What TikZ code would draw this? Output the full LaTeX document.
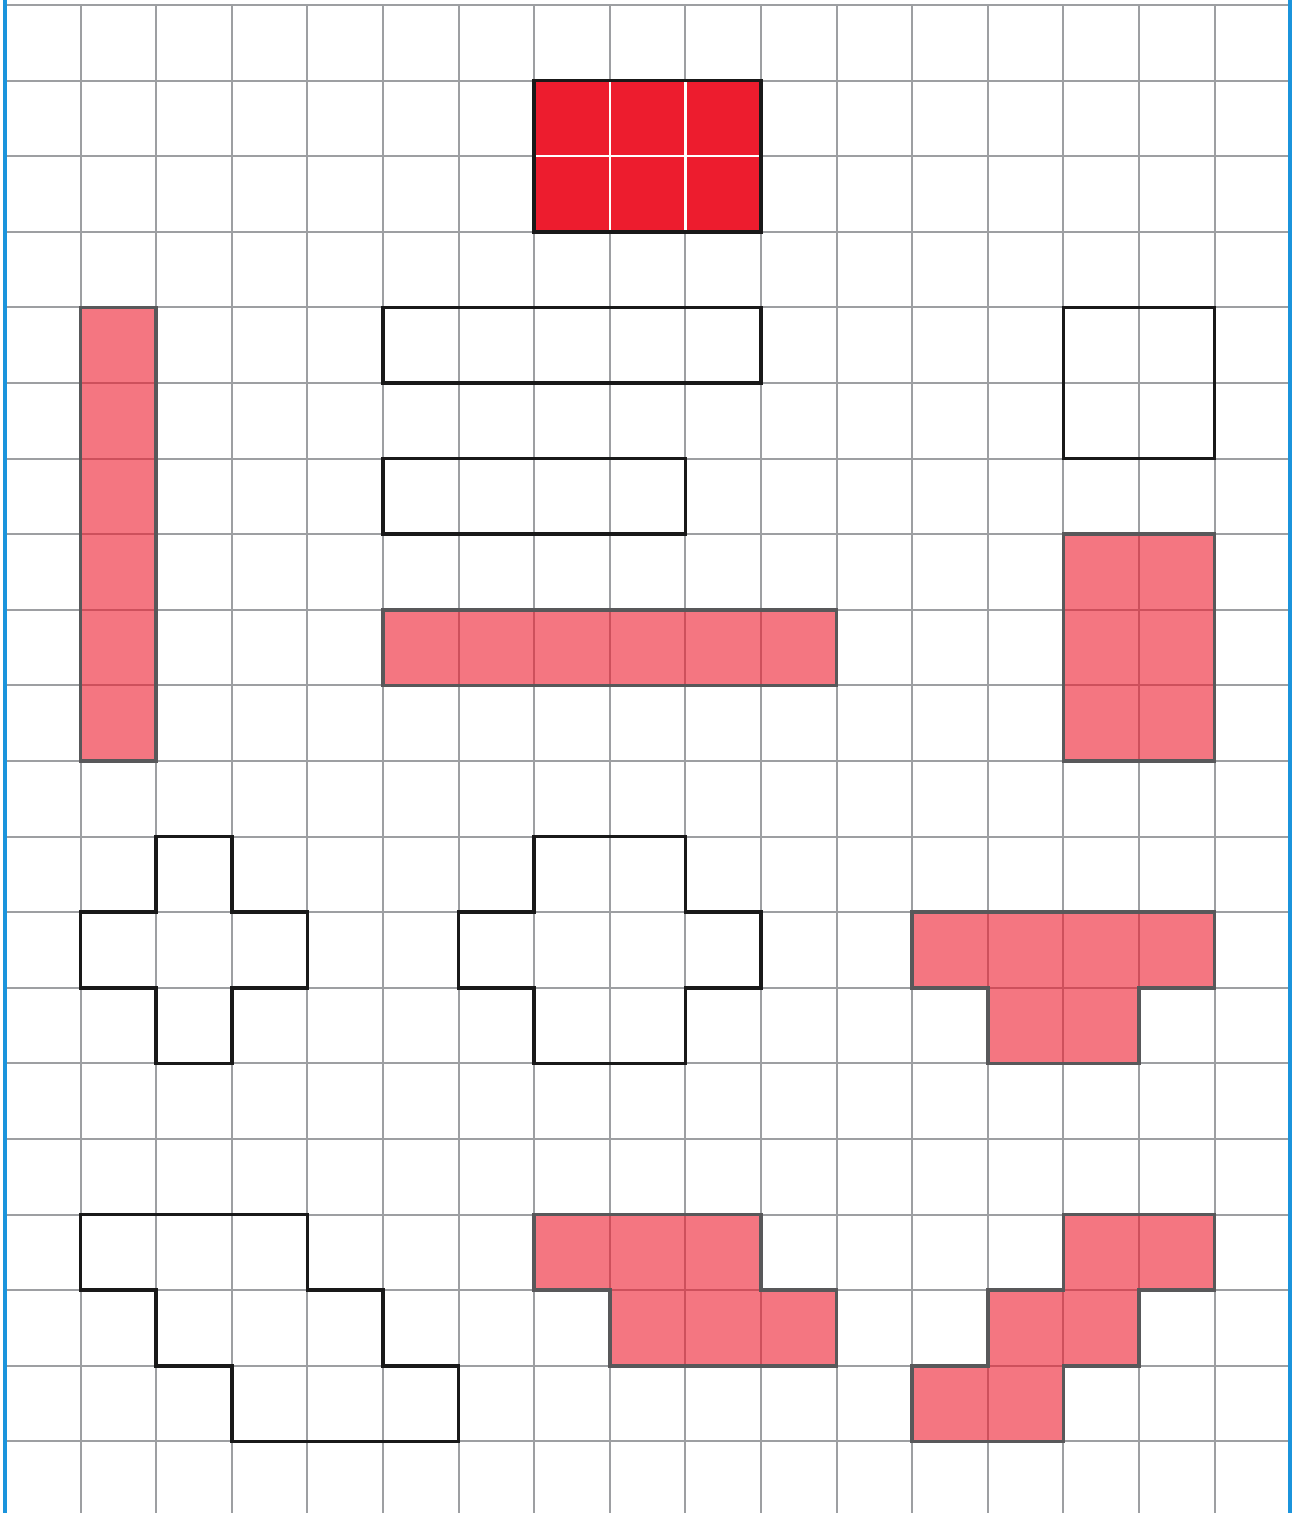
\documentclass[tikz,border=0pt]{standalone}
\begin{document}
\begin{tikzpicture}[x=1cm,y=-1cm,
  outline/.style={draw=black!90, line width=1.4pt, line join=miter},
  pinkshape/.style={fill={rgb,255:red,237;green,28;blue,46}, fill opacity=0.6, draw={rgb,255:red,88;green,88;blue,90}, draw opacity=1, line width=1.4pt},
  redshape/.style={fill={rgb,255:red,237;green,28;blue,46}, draw=black!90, line width=1.4pt}]
\definecolor{gridgray}{RGB}{157,159,162}
\definecolor{edgeblue}{RGB}{27,148,220}
\fill[white] (-0.066,-0.066) rectangle (17.077,19.947);
\useasboundingbox (-0.066,-0.066) rectangle (17.077,19.947);
% grid
\foreach \i in {0,...,17} \draw[draw=gridgray, line width=0.75pt] (\i,0) -- (\i,19.947);
\foreach \j in {0,...,19} \draw[draw=gridgray, line width=0.75pt] (0,\j) -- (17,\j);
% red rectangle with white lines
\draw[redshape] (7,1) rectangle (10,3);
\draw[white, line width=0.9pt] (8,1) -- (8,3) (9,1) -- (9,3) (7,2) -- (10,2);
\draw[draw=black!90, line width=1.4pt] (7,1) rectangle (10,3);
% pink shapes
\draw[pinkshape] (1,4) rectangle (2,10);
\draw[pinkshape] (5,8) rectangle (11,9);
\draw[pinkshape] (14,7) rectangle (16,10);
\draw[pinkshape] (12,12) -- (16,12) -- (16,13) -- (15,13) -- (15,14) -- (13,14) -- (13,13) -- (12,13) -- cycle;
\draw[pinkshape] (7,16) -- (10,16) -- (10,17) -- (11,17) -- (11,18) -- (8,18) -- (8,17) -- (7,17) -- cycle;
\draw[pinkshape] (14,16) -- (16,16) -- (16,17) -- (15,17) -- (15,18) -- (14,18) -- (14,19) -- (12,19) -- (12,18) -- (13,18) -- (13,17) -- (14,17) -- cycle;
% outlined shapes
\draw[outline] (5,4) rectangle (10,5);
\draw[outline] (5,6) rectangle (9,7);
\draw[outline] (14,4) rectangle (16,6);
\draw[outline] (2,11) -- (3,11) -- (3,12) -- (4,12) -- (4,13) -- (3,13) -- (3,14) -- (2,14) -- (2,13) -- (1,13) -- (1,12) -- (2,12) -- cycle;
\draw[outline] (7,11) -- (9,11) -- (9,12) -- (10,12) -- (10,13) -- (9,13) -- (9,14) -- (7,14) -- (7,13) -- (6,13) -- (6,12) -- (7,12) -- cycle;
\draw[outline] (1,16) -- (4,16) -- (4,17) -- (5,17) -- (5,18) -- (6,18) -- (6,19) -- (3,19) -- (3,18) -- (2,18) -- (2,17) -- (1,17) -- cycle;
% blue side edges
\draw[edgeblue, line width=1.5pt] (0,-0.066) -- (0,19.947);
\draw[edgeblue, line width=1.5pt] (17,-0.066) -- (17,19.947);
\end{tikzpicture}
\end{document}
